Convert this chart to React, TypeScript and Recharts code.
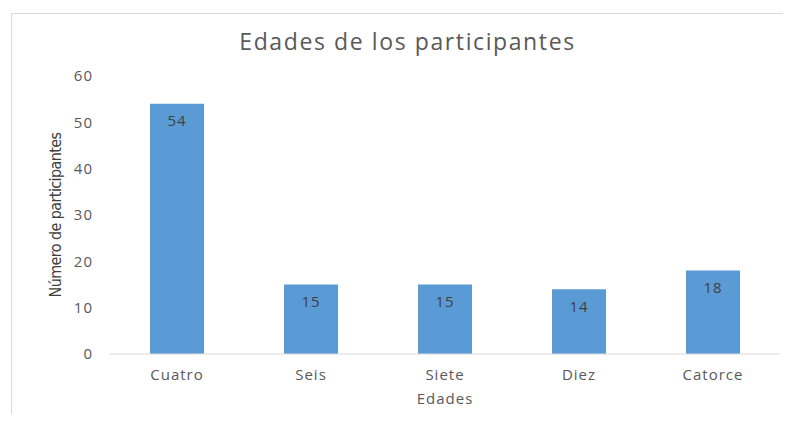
import { BarChart, Bar, XAxis, YAxis, LabelList, Label } from "recharts";

const edades = ["Cuatro", "Seis", "Siete", "Diez", "Catorce"];
const participantes = [54, 15, 15, 14, 18];
const yTicks = [0, 10, 20, 30, 40, 50, 60];

const data = edades.map((name, i) => ({ name, value: participantes[i] }));

const font = "'Open Sans', 'DejaVu Sans', sans-serif";

export default function App() {
  return (
    <div
      style={{
        position: "relative",
        margin: -8,
        width: 791,
        height: 422,
        overflow: "hidden",
        background: "#fff",
        fontFamily: font,
      }}
    >
      {/* chart frame, cut off on the right and bottom */}
      <div
        style={{
          position: "absolute",
          left: 11,
          top: 13,
          width: 820,
          height: 440,
          border: "1px solid #d9d9d9",
        }}
      />
      <div
        style={{
          position: "absolute",
          left: 0,
          width: 815,
          top: 25,
          textAlign: "center",
          fontSize: 23,
          letterSpacing: 1.6,
          color: "#595959",
        }}
      >
        Edades de los participantes
      </div>
      <div style={{ position: "absolute", left: 0, top: 0 }}>
        <BarChart
          width={791}
          height={422}
          data={data}
          margin={{ top: 76, right: 11, bottom: 0, left: 0 }}
        >
          <XAxis
            dataKey="name"
            height={68}
            tickLine={false}
            tickSize={0}
            tickMargin={15}
            stroke="#d9d9d9"
            tick={{ fill: "#595959", fontSize: 15, letterSpacing: 1, fontFamily: font }}
          >
            <Label
              value="Edades"
              position="insideBottom"
              offset={18}
              style={{ fill: "#595959", fontSize: 15, letterSpacing: 1, fontFamily: font }}
            />
          </XAxis>
          <YAxis
            width={110}
            domain={[0, 60]}
            ticks={yTicks}
            axisLine={false}
            tickLine={false}
            tickSize={0}
            tickMargin={17}
            tick={{ fill: "#595959", fontSize: 15, letterSpacing: 1, fontFamily: font }}
          >
            <Label
              value="Número de participantes"
              position="center"
              angle={-90}
              style={{
                fill: "#404040",
                fontSize: 16,
                letterSpacing: -0.6,
                textAnchor: "middle",
                fontFamily: "'Liberation Sans Narrow', 'DejaVu Sans Condensed', sans-serif",
              }}
            />
          </YAxis>
          <Bar dataKey="value" fill="#5B9BD5" barSize={54} isAnimationActive={false}>
            <LabelList
              dataKey="value"
              position="insideTop"
              offset={12}
              style={{ fill: "#404040", fontSize: 15, letterSpacing: 1, fontFamily: font }}
            />
          </Bar>
        </BarChart>
      </div>
    </div>
  );
}
